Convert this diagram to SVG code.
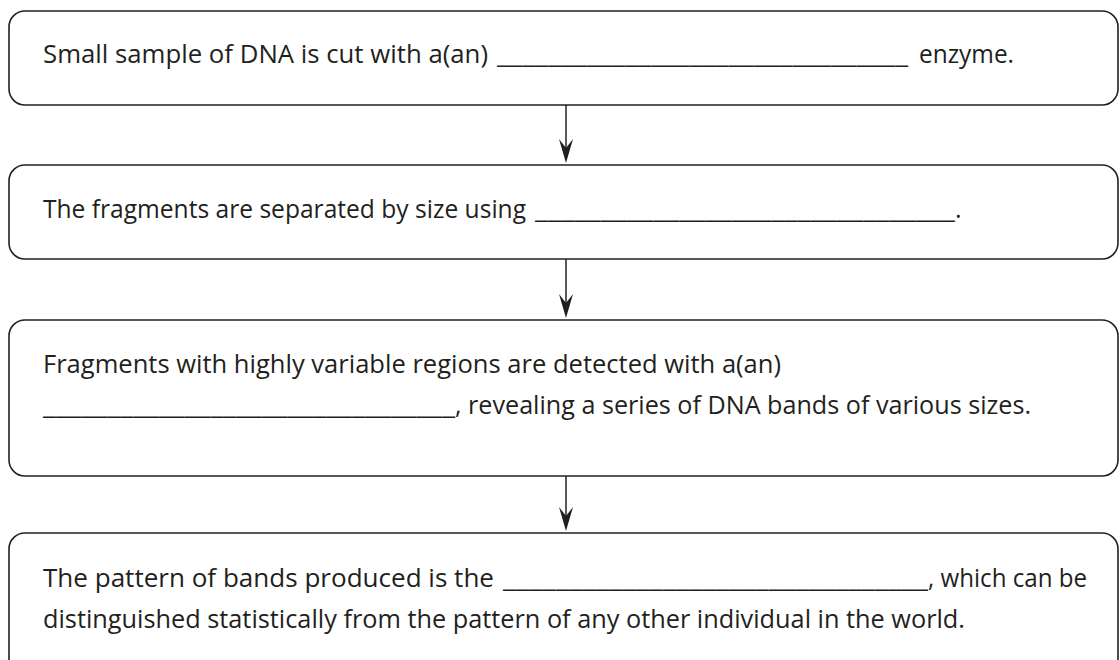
<svg xmlns="http://www.w3.org/2000/svg" width="1120" height="660" viewBox="0 0 1120 660">
<defs>
<style>
.box{fill:#fff;stroke:#231f20;stroke-width:1.6}
.t{font-family:"Open Sans","Noto Sans",sans-serif;font-size:25px;fill:#231f20}
.ln{stroke:#5a5a5a;stroke-width:2;fill:none}
.hd{fill:#231f20}
</style>
</defs>
<rect width="1120" height="660" fill="#fff"/>
<g id="connectors">
<line class="ln" x1="566" y1="105" x2="566" y2="150"/>
<path class="hd" d="M566,163 L559,139 L566,148 L573,139 Z"/>
<line class="ln" x1="566" y1="259" x2="566" y2="305"/>
<path class="hd" d="M566,318 L559,294 L566,303 L573,294 Z"/>
<line class="ln" x1="566" y1="476" x2="566" y2="518"/>
<path class="hd" d="M566,531 L559,507 L566,516 L573,507 Z"/>
</g>
<g id="node1">
<rect class="box" x="9" y="11" width="1109" height="94" rx="16"/>
<text class="t" y="63"><tspan x="43" textLength="445" lengthAdjust="spacingAndGlyphs">Small sample of DNA is cut with a(an)</tspan><tspan x="497" textLength="411" lengthAdjust="spacingAndGlyphs">________________________________</tspan><tspan x="919" textLength="95" lengthAdjust="spacingAndGlyphs">enzyme.</tspan></text>
</g>
<g id="node2">
<rect class="box" x="9" y="165" width="1109" height="94" rx="16"/>
<text class="t" y="218"><tspan x="43" textLength="483" lengthAdjust="spacingAndGlyphs">The fragments are separated by size using</tspan><tspan x="535" textLength="420" lengthAdjust="spacingAndGlyphs">________________________________</tspan><tspan x="955">.</tspan></text>
</g>
<g id="node3">
<rect class="box" x="9" y="320" width="1109" height="156" rx="16"/>
<text class="t" x="43" y="373" textLength="738" lengthAdjust="spacingAndGlyphs">Fragments with highly variable regions are detected with a(an)</text>
<text class="t" y="414"><tspan x="43" textLength="412" lengthAdjust="spacingAndGlyphs">________________________________</tspan><tspan x="455" textLength="576" lengthAdjust="spacingAndGlyphs">, revealing a series of DNA bands of various sizes.</tspan></text>
</g>
<g id="node4">
<rect class="box" x="9" y="533" width="1109" height="160" rx="16"/>
<text class="t" y="587"><tspan x="43" textLength="451" lengthAdjust="spacingAndGlyphs">The pattern of bands produced is the</tspan><tspan x="503" textLength="425" lengthAdjust="spacingAndGlyphs">________________________________</tspan><tspan x="928" textLength="159" lengthAdjust="spacingAndGlyphs">, which can be</tspan></text>
<text class="t" x="43" y="628" textLength="922" lengthAdjust="spacingAndGlyphs">distinguished statistically from the pattern of any other individual in the world.</text>
</g>
</svg>
